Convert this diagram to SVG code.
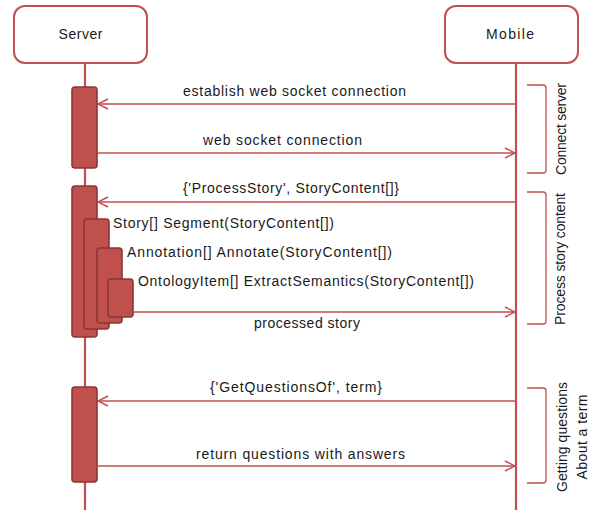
<svg xmlns="http://www.w3.org/2000/svg" width="591" height="510" viewBox="0 0 591 510">
<defs>
<marker id="ah" markerWidth="12" markerHeight="12" viewBox="0 0 12 12" refX="11" refY="6" orient="auto" markerUnits="userSpaceOnUse">
<path d="M1,1 L11,6 L1,11" fill="none" stroke="#c0504d" stroke-width="1.4"/>
</marker>
<style>
.head{fill:#fff;stroke:#c0504d;stroke-width:2}
.life{stroke:#c0504d;stroke-width:2.2;fill:none}
.act{fill:#c0504d;stroke:#8c3533;stroke-width:1.6}
.msg{stroke:#c0504d;stroke-width:1.3;fill:none}
.brk{stroke:#c0504d;stroke-width:1.3;fill:none}
text{font-family:"Liberation Sans",Arial,sans-serif;font-size:14px;fill:#1a1a1a}
.c{text-anchor:middle}
</style>
</defs>
<rect width="591" height="510" fill="#fff"/>
<g id="lifelines">
<line class="life" x1="85" y1="63" x2="85" y2="510"/>
<line class="life" x1="516" y1="63" x2="516" y2="510"/>
</g>
<g id="server">
<rect class="head" x="14" y="6" width="133" height="57" rx="11"/>
<text class="c" x="80.5" y="39" textLength="44">Server</text>
</g>
<g id="mobile">
<rect class="head" x="445" y="6" width="133" height="57" rx="11"/>
<text class="c" x="510" y="39" textLength="48">Mobile</text>
</g>
<g id="activations">
<rect class="act" x="72" y="87" width="25" height="81" rx="3"/>
<rect class="act" x="72" y="186" width="25" height="151" rx="3"/>
<rect class="act" x="84" y="219" width="25" height="110" rx="3"/>
<rect class="act" x="97" y="248" width="25" height="75" rx="3"/>
<rect class="act" x="108" y="279" width="25" height="38" rx="3"/>
<rect class="act" x="72" y="387" width="25" height="95" rx="3"/>
</g>
<g id="connectors">
<line class="msg" x1="516" y1="104" x2="98" y2="104" marker-end="url(#ah)"/>
<line class="msg" x1="97" y1="153" x2="515" y2="153" marker-end="url(#ah)"/>
<line class="msg" x1="516" y1="202" x2="98" y2="202" marker-end="url(#ah)"/>
<line class="msg" x1="133" y1="312" x2="515" y2="312" marker-end="url(#ah)"/>
<line class="msg" x1="516" y1="401" x2="98" y2="401" marker-end="url(#ah)"/>
<line class="msg" x1="97" y1="466" x2="515" y2="466" marker-end="url(#ah)"/>
</g>
<g id="labels">
<text x="183" y="96" textLength="223">establish web socket connection</text>
<text x="203" y="145" textLength="159">web socket connection</text>
<text x="183" y="193" textLength="216">{'ProcessStory', StoryContent[]}</text>
<text x="113" y="228" textLength="221">Story[] Segment(StoryContent[])</text>
<text x="127" y="257" textLength="265">Annotation[] Annotate(StoryContent[])</text>
<text x="138" y="286" textLength="336">OntologyItem[] ExtractSemantics(StoryContent[])</text>
<text x="254" y="328" textLength="106">processed story</text>
<text x="210" y="392" textLength="172">{'GetQuestionsOf',  term}</text>
<text x="196" y="459" textLength="209">return questions with answers</text>
</g>
<g id="brackets">
<path class="brk" d="M527,85 H543 Q546,85 546,88 V170 Q546,173 543,173 H527"/>
<path class="brk" d="M527,192 H543 Q546,192 546,195 V321 Q546,324 543,324 H527"/>
<path class="brk" d="M527,388 H543 Q546,388 546,391 V480 Q546,483 543,483 H527"/>
<text class="c" transform="translate(566,129) rotate(-90)" textLength="92">Connect server</text>
<text class="c" transform="translate(565,259) rotate(-90)" textLength="132">Process story content</text>
<text class="c" transform="translate(567,437) rotate(-90)" textLength="110">Getting questions</text>
<text class="c" transform="translate(587,437) rotate(-90)" textLength="85">About a term</text>
</g>
</svg>
